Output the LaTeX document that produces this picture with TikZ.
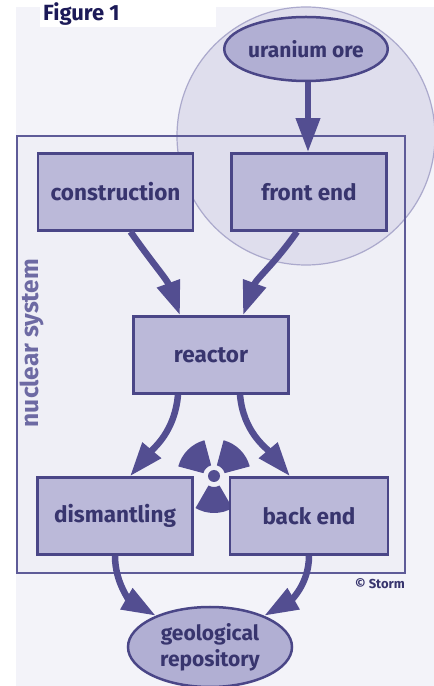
\documentclass[tikz,border=0pt]{standalone}
\usepackage{fontspec}
\setmainfont{Fira Sans}
\usetikzlibrary{arrows.meta,shapes.geometric}
\definecolor{bgc}{HTML}{F3F3F9}
\definecolor{sysfill}{HTML}{EFEFF6}
\definecolor{circfill}{HTML}{DFDEED}
\definecolor{circline}{HTML}{ABA9CC}
\definecolor{sysline}{HTML}{5E5B98}
\definecolor{boxfill}{HTML}{BBB9D9}
\definecolor{ellfill}{HTML}{B1AFD3}
\definecolor{boxline}{HTML}{4A4687}
\definecolor{arrc}{HTML}{534E91}
\definecolor{txtc}{HTML}{38356E}
\definecolor{systxt}{HTML}{6D6AA3}
\definecolor{figtxt}{HTML}{1C1A58}
\tikzset{
  stepbox/.style={draw=boxline, line width=2.5pt, fill=boxfill, text=txtc,
    font=\fontsize{22.5}{26}\selectfont\bfseries, minimum width=155pt,
    minimum height=77pt, inner sep=0pt},
  ellbox/.style={ellipse, draw=boxline, line width=2.5pt, fill=ellfill, text=txtc,
    font=\fontsize{21}{26}\selectfont\bfseries, inner sep=0pt, align=center},
  flow/.style={draw=arrc, line width=6.5pt,
    -{Triangle[length=34pt,width=23pt]}, arrc}
}
\begin{document}
\begin{tikzpicture}[x=1pt,y=1pt]
\useasboundingbox (0,0) rectangle (434,686);
% backgrounds
\fill[bgc] (16,0) rectangle (434,679);
\fill[white] (40,659) rectangle (216,686);
\node[anchor=base west, text=figtxt, font=\fontsize{22}{26}\selectfont\bfseries, inner sep=0pt] (fig) at (43,665) {Figure 1};
% system rectangle fill
\fill[sysfill] (17,113) rectangle (405,550);
% circle
\path[fill=circfill, draw=circline, line width=1.2pt] (306,550) circle[radius=129];
% system rectangle border
\draw[sysline, line width=2.6pt] (17,113) rectangle (405,550);
\node[rotate=90, text=systxt, font=\fontsize{24.5}{28}\selectfont\bfseries] (sys) at (32,343) {nuclear system};
\node[anchor=base east, text=txtc, font=\fontsize{13}{15}\selectfont\bfseries, inner sep=0pt] (storm) at (405,97) {© Storm};
% trefoil
\begin{scope}[shift={(214,210)}, arrc]
\fill (15:11) -- (15:37) arc[start angle=15, end angle=75, radius=37] -- (75:11) arc[start angle=75, end angle=15, radius=11] -- cycle;
\fill (105:11) -- (105:37) arc[start angle=105, end angle=165, radius=37] -- (165:11) arc[start angle=165, end angle=105, radius=11] -- cycle;
\fill (240:11) -- (240:37) arc[start angle=240, end angle=300, radius=37] -- (300:11) arc[start angle=300, end angle=240, radius=11] -- cycle;
\fill (0,0) circle[radius=6];
\end{scope}
% nodes
\node[ellbox, minimum width=162pt, minimum height=64pt] (ore) at (306,637) {uranium ore};
\node[stepbox] (cons) at (115.5,494) {construction};
\node[stepbox] (front) at (309,494) {front end};
\node[stepbox] (reac) at (211,331) {reactor};
\node[stepbox] (dism) at (115,170) {dismantling};
\node[stepbox, minimum width=158pt] (back) at (309,170) {back end};
\node[ellbox, minimum width=164pt, minimum height=80pt] (geo) at (210,39) {geological\\repository};
% arrows
\draw[flow] ([xshift=2pt]ore.south) -- ([xshift=-1pt]front.north);
\draw[flow] ([xshift=15pt]cons.south) to[out=-55, in=110] ([xshift=-31pt]reac.north);
\draw[flow] ([xshift=-12pt]front.south) to[out=-125, in=70] ([xshift=32pt]reac.north);
\draw[flow] ([xshift=-33pt]reac.south) to[out=-95, in=50] ([xshift=15pt]dism.north);
\draw[flow] ([xshift=29pt]reac.south) to[out=-85, in=130] ([xshift=-19pt]back.north);
\draw[flow] (dism.south) to[out=-90, in=150] (geo.150);
\draw[flow] (back.south) to[out=-90, in=30] (geo.30);
\end{tikzpicture}
\end{document}
